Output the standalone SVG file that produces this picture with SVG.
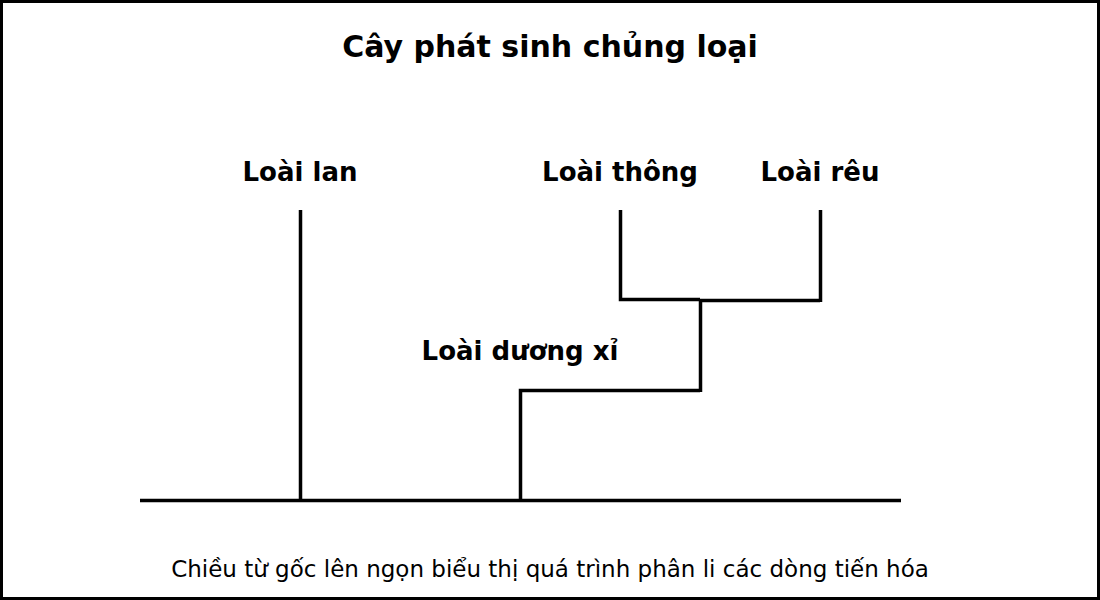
<svg xmlns="http://www.w3.org/2000/svg" width="1100" height="600" viewBox="0 0 1100 600">
<style>
.title{font-family:"DejaVu Sans",sans-serif;font-weight:bold;font-size:30px;fill:#000;text-anchor:middle}
.lbl{font-family:"DejaVu Sans",sans-serif;font-weight:bold;font-size:26px;fill:#000;text-anchor:middle}
.note{font-family:"DejaVu Sans",sans-serif;font-size:23px;fill:#000;text-anchor:middle}
.ln{stroke:#000;stroke-width:3.5;fill:none;stroke-linecap:butt}
</style>
<rect x="1.5" y="1.5" width="1097" height="597" fill="#fff" stroke="#000" stroke-width="3"/>
<text class="title" x="550" y="57">Cây phát sinh chủng loại</text>
<g id="connectors">
<path class="ln" d="M140 500.5 H901"/>
<path class="ln" d="M300.5 210 V500"/>
<path class="ln" d="M520.5 500 V390.5 H700"/>
<path class="ln" d="M700.5 392 V299"/>
<path class="ln" d="M620.5 210 V299.5 H700"/>
<path class="ln" d="M700 300.5 H820"/>
<path class="ln" d="M820.5 210 V302"/>
</g>
<g id="node-lan"><text class="lbl" x="300" y="181">Loài lan</text></g>
<g id="node-thong"><text class="lbl" x="620" y="181">Loài thông</text></g>
<g id="node-reu"><text class="lbl" x="820" y="181">Loài rêu</text></g>
<g id="node-duongxi"><text class="lbl" x="520" y="360">Loài dương xỉ</text></g>
<text class="note" x="550" y="577">Chiều từ gốc lên ngọn biểu thị quá trình phân li các dòng tiến hóa</text>
</svg>
